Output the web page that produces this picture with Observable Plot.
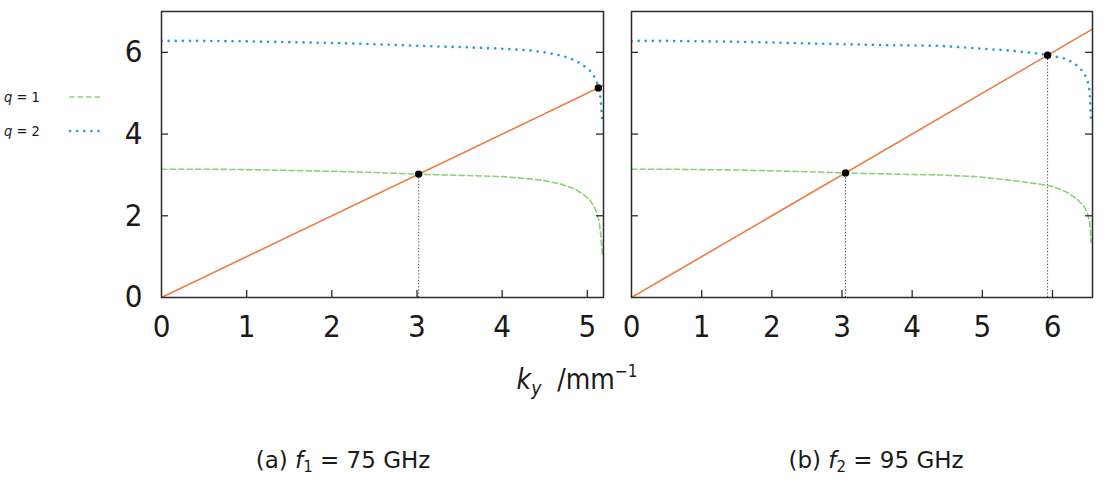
<!DOCTYPE html>
<html>
<head>
<meta charset="utf-8">
<script src="https://cdn.jsdelivr.net/npm/d3@7"></script>
<script src="https://cdn.jsdelivr.net/npm/@observablehq/plot@0.6"></script>
<style>
  body { margin: 0; background: #fff; }
  #fig { position: relative; width: 1116px; height: 481px; overflow: hidden;
         font-family: "DejaVu Sans Condensed", "DejaVu Sans", sans-serif; color: #1a1a1a; }
  .panel { position: absolute; top: 0; }
  .xlabel { position: absolute; top: 361px; left: 477px; width: 200px; text-align: center; font-size: 28px; }
  .xlabel sub { font-size: 19px; vertical-align: -6px; }
  .xlabel sup { font-size: 17px; vertical-align: 12px; }
  .caption { position: absolute; top: 447px; width: 300px; text-align: center; font-size: 23px;
             font-family: "DejaVu Sans", sans-serif; }
  .caption sub { font-size: 15px; vertical-align: -4px; }
  .legend { position: absolute; left: 4px; top: 80px; font-size: 14.5px; }
  .legend .row { display: flex; align-items: center; height: 34px; }
  .legend .lab { width: 64px; }
</style>
</head>
<body>
<div id="fig">
  <div class="panel" id="left"></div>
  <div class="panel" id="right" style="left:617px"></div>
  <div class="legend">
    <div class="row"><span class="lab"><i>q</i> = 1</span>
      <svg width="36" height="6"><line x1="1" y1="3" x2="33" y2="3" stroke="#8fd07c" stroke-width="1.6" stroke-dasharray="5.5,3"/></svg></div>
    <div class="row"><span class="lab"><i>q</i> = 2</span>
      <svg width="36" height="6"><line x1="2" y1="3" x2="31" y2="3" stroke="#2a9fd0" stroke-width="2.6" stroke-linecap="round" stroke-dasharray="0.1,7"/></svg></div>
  </div>
  <div class="xlabel"><i>k<sub>y</sub></i>&nbsp; /mm<sup>−1</sup></div>
  <div class="caption" style="left:193px">(a) <i>f</i><sub>1</sub> = 75 GHz</div>
  <div class="caption" style="left:726px">(b) <i>f</i><sub>2</sub> = 95 GHz</div>
</div>
<script>
// f1 = 75 GHz: transverse wavenumber samples and the two mode curves
const kyA = [0, 0.5, 1, 1.5, 2, 2.5, 3, 3.5, 4, 4.3, 4.5, 4.7, 4.85, 4.95, 5.03, 5.08, 5.11, 5.14, 5.16, 5.175];
const q1A = [3.14, 3.14, 3.13, 3.11, 3.09, 3.06, 3.02, 2.99, 2.96, 2.91, 2.86, 2.77, 2.66, 2.53, 2.38, 2.23, 2.08, 1.85, 1.50, 1.05];
const q2A = [6.28, 6.28, 6.27, 6.25, 6.23, 6.20, 6.16, 6.13, 6.09, 6.05, 6.00, 5.92, 5.81, 5.69, 5.55, 5.41, 5.28, 5.12, 4.78, 4.30];
const kyMaxA = 5.19;
const crossA = [3.02, 5.13];        // intersections with the straight line
const dropA = [3.02];               // dotted drop line to the axis

// f2 = 95 GHz
const kyB = [0, 0.5, 1, 1.5, 2, 2.5, 3, 3.5, 4, 4.4, 4.9, 5.35, 5.8, 6.0, 6.2, 6.35, 6.45, 6.5, 6.53, 6.55];
const q1B = [3.14, 3.14, 3.13, 3.12, 3.10, 3.08, 3.05, 3.03, 3.01, 3.00, 2.96, 2.88, 2.78, 2.72, 2.58, 2.41, 2.23, 2.05, 1.85, 1.35];
const q2B = [6.28, 6.28, 6.27, 6.26, 6.24, 6.22, 6.20, 6.18, 6.17, 6.16, 6.10, 6.05, 5.97, 5.91, 5.84, 5.68, 5.50, 5.30, 5.05, 4.25];
const kyMaxB = 6.57;
const crossB = [3.05, 5.93];
const dropB = [3.05, 5.93];

// axis ticks
const xTicksA = [0, 1, 2, 3, 4, 5];
const xTicksB = [0, 1, 2, 3, 4, 5, 6];
const yTicks = [0, 2, 4, 6];

const GREEN = "#8fd07c", BLUE = "#2a9fd0", ORANGE = "#ef7b42", FRAME = "#2b2b2b";
const FONT = '"DejaVu Sans Condensed", "DejaVu Sans", sans-serif';

function panel({ky, q1, q2, kyMax, cross, drop, xTicks, showY, width, marginLeft, marginRight}) {
  const H = 350, mt = 11, mb = 53;
  const innerW = width - marginLeft - marginRight, innerH = H - mt - mb;
  const tx = 7 / innerH * 7;            // inward tick length along y (data units)
  const ty = 7 / innerW * kyMax;        // inward tick length along x (data units)
  const inner = xTicks.filter(d => d > 0);
  const innerY = yTicks.filter(d => d > 0);
  return Plot.plot({
    width, height: H, marginLeft, marginRight, marginTop: mt, marginBottom: mb,
    style: {fontFamily: FONT, background: "transparent", overflow: "visible"},
    x: {domain: [0, kyMax]},
    y: {domain: [0, 7]},
    marks: [
      Plot.ruleX(drop, {x: d => d, y1: 0, y2: d => d, stroke: "#444", strokeWidth: 1, strokeDasharray: "1.2,2"}),
      Plot.line(ky.map((k, i) => [k, q1[i]]), {stroke: GREEN, strokeWidth: 1.6, strokeDasharray: "5.5,3", clip: true}),
      Plot.line(ky.map((k, i) => [k, q2[i]]), {stroke: BLUE, strokeWidth: 2.6, strokeLinecap: "round", strokeDasharray: "0.1,7", clip: true}),
      Plot.line([0, kyMax], {x: d => d, y: d => d, stroke: ORANGE, strokeWidth: 1.6, clip: true}),
      Plot.dot(cross, {x: d => d, y: d => d, r: 3.7, fill: "black"}),
      Plot.ruleX(inner, {x: d => d, y1: 0, y2: tx, stroke: FRAME, strokeWidth: 1.3}),
      Plot.ruleY(innerY, {y: d => d, x1: 0, x2: ty, stroke: FRAME, strokeWidth: 1.3}),
      Plot.ruleY(innerY, {y: d => d, x1: kyMax - ty, x2: kyMax, stroke: FRAME, strokeWidth: 1.3}),
      Plot.axisX(xTicks, {tickSize: 0, tickPadding: 17, fontSize: 31, fill: "#1a1a1a", label: null}),
      showY ? Plot.axisY(yTicks, {tickSize: 0, tickPadding: 19, fontSize: 31, fill: "#1a1a1a", label: null}) : Plot.axisY({ticks: [], label: null}),
      Plot.frame({stroke: FRAME, strokeWidth: 1.5})
    ]
  });
}

document.getElementById("left").append(panel({
  ky: kyA, q1: q1A, q2: q2A, kyMax: kyMaxA, cross: crossA, drop: dropA,
  xTicks: xTicksA, showY: true, width: 617, marginLeft: 161, marginRight: 14
}));
document.getElementById("right").append(panel({
  ky: kyB, q1: q1B, q2: q2B, kyMax: kyMaxB, cross: crossB, drop: dropB,
  xTicks: xTicksB, showY: false, width: 499, marginLeft: 14, marginRight: 24
}));
</script>
</body>
</html>
